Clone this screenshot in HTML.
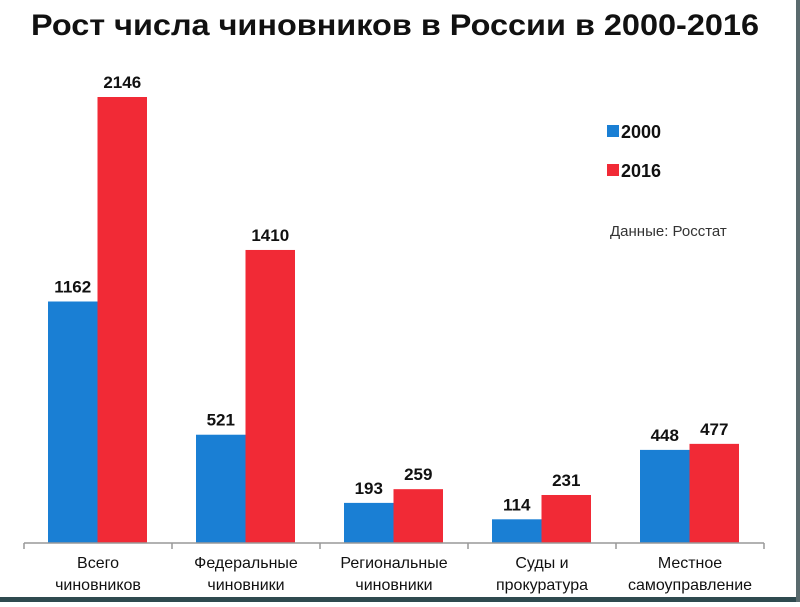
<!DOCTYPE html>
<html><head><meta charset="utf-8"><style>
body{margin:0;width:800px;height:602px;background:#fff;overflow:hidden;font-family:"Liberation Sans",Arial,sans-serif}
</style></head><body>
<svg width="800" height="602" xmlns="http://www.w3.org/2000/svg">
<rect x="0" y="0" width="800" height="602" fill="#fff"/>
<rect x="0" y="597" width="800" height="5" fill="#2f4a4f"/>
<rect x="796" y="0" width="4" height="602" fill="#5a6b6e"/>
<text x="395" y="35" text-anchor="middle" font-size="30" font-weight="bold" fill="#111" textLength="728" lengthAdjust="spacingAndGlyphs">Рост числа чиновников в России в 2000-2016</text>
<g id="plot"></g>
<rect x="607" y="125" width="12" height="12" fill="#1a7fd4"/>
<text x="621" y="138" font-size="18" font-weight="bold" fill="#111">2000</text>
<rect x="607" y="164" width="12" height="12" fill="#f12a36"/>
<text x="621" y="177" font-size="18" font-weight="bold" fill="#111">2016</text>
<text x="610" y="236" font-size="15" fill="#333">Данные: Росстат</text>
</svg>
<script>
const categories1 = ["Всего","Федеральные","Региональные","Суды и","Местное"];
const categories2 = ["чиновников","чиновники","чиновники","прокуратура","самоуправление"];
const values2000 = [1162,521,193,114,448];
const values2016 = [2146,1410,259,231,477];
const NS="http://www.w3.org/2000/svg";
const g=document.getElementById('plot');
const base=543, scale=446/2146, x0=24, gw=148, bw=49.5;
const y=v=>base-v*scale;
function mk(t,a){const e=document.createElementNS(NS,t);for(const k in a)e.setAttribute(k,a[k]);g.appendChild(e);return e;}
categories1.forEach((c,i)=>{
  const gx=x0+i*gw;
  const series=[[values2000[i],"#1a7fd4","2000"],[values2016[i],"#f12a36","2016"]];
  series.forEach((s,j)=>{
    const bx=gx+24+j*bw;
    const r=mk('rect',{x:bx,y:y(s[0]),width:bw,height:base-y(s[0]),fill:s[1]});
    
    
    const t=mk('text',{x:bx+bw/2,y:y(s[0])-9,'text-anchor':'middle','font-size':17,'font-weight':'bold',fill:'#111'});
    t.textContent=s[0];
    
    
  });
  const l1=mk('text',{x:gx+gw/2,y:568,'text-anchor':'middle','font-size':16,fill:'#111'});
  l1.textContent=c;
  
  
  const l2=mk('text',{x:gx+gw/2,y:590,'text-anchor':'middle','font-size':16,fill:'#111'});
  l2.textContent=categories2[i];
  
  
});
const ax=mk('line',{x1:x0,x2:x0+5*gw,y1:base,y2:base,stroke:'#999','stroke-width':1.5});


for(let i=0;i<=5;i++){
  const tk=mk('line',{x1:x0+i*gw,x2:x0+i*gw,y1:base,y2:base+6,stroke:'#999','stroke-width':1.5});
  
  
}
</script>
</body></html>
